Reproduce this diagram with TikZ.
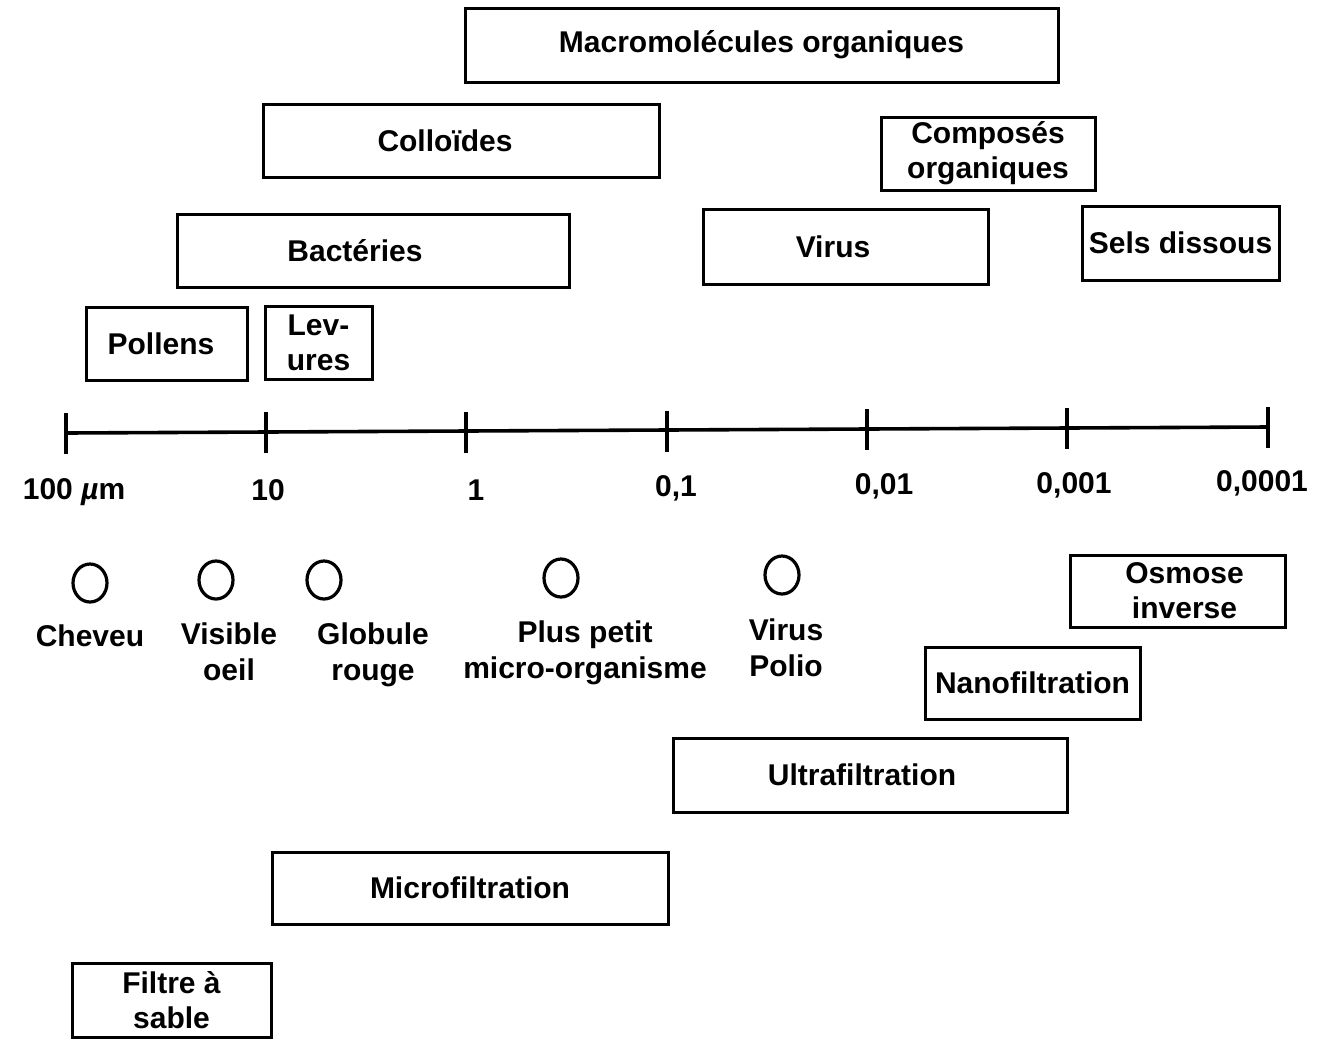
\documentclass[tikz,border=0pt]{standalone}
\usepackage{fontspec}
\setmainfont{Liberation Sans}
\usetikzlibrary{shapes.geometric}
\begin{document}
\begin{tikzpicture}[x=0.5pt,y=-0.5pt,
  bx/.style={draw, line width=1.5pt, inner sep=0pt, align=center, font=\fontsize{15}{17.5}\selectfont\bfseries},
  lbl/.style={inner sep=0pt, align=center, font=\fontsize{15}{18}\selectfont\bfseries},
  sizering/.style={draw, ellipse, line width=1.6pt, minimum width=17pt, minimum height=19pt, inner sep=0pt},
  axisline/.style={line width=1.8pt}]
\useasboundingbox (0,0) rectangle (1326,1039);
% boxes
\node[bx, minimum width=296.5pt, minimum height=37pt] (macro) at (761.5,45) {Macromolécules organiques};
\node[bx, minimum width=198pt, minimum height=36.5pt] (coll) at (461,140.5) {Colloïdes\kern16pt};
\node[bx, minimum width=107pt, minimum height=36.5pt] (comp) at (988,153.5) {Composés\\organiques};
\node[bx, minimum width=196pt, minimum height=36.5pt] (bact) at (373,250.5) {Bactéries\kern18pt};
\node[bx, minimum width=142.5pt, minimum height=37.5pt] (virus) at (845.5,246.5) {Virus\kern12.5pt};
\node[bx, minimum width=98.5pt, minimum height=37pt] (sels) at (1180.5,243) {Sels dissous};
\node[bx, minimum width=80.5pt, minimum height=36.5pt] (poll) at (166.5,343.5) {Pollens\kern5.5pt};
\node[bx, minimum width=53.5pt, minimum height=36.5pt] (lev) at (318.5,342.5) {Lev-\\ures};
\node[bx, minimum width=107.5pt, minimum height=36pt] (osm) at (1177.5,591) {\kern7pt Osmose\\\kern7pt inverse};
\node[bx, minimum width=107.5pt, minimum height=36pt] (nano) at (1032.5,683) {Nanofiltration};
\node[bx, minimum width=197pt, minimum height=37pt] (ultra) at (870,775) {Ultrafiltration\kern8pt};
\node[bx, minimum width=198pt, minimum height=36pt] (micro) at (470,888) {Microfiltration};
\node[bx, minimum width=99.5pt, minimum height=37pt] (filt) at (171.5,1000) {Filtre à\\sable};
% axis
\coordinate (t0) at (66,433);
\coordinate (t1) at (266,432);
\coordinate (t2) at (466,432);
\coordinate (t3) at (667,431);
\coordinate (t4) at (867,429);
\coordinate (t5) at (1067,428);
\coordinate (t6) at (1268,427);
\draw[axisline] (t0) -- (t6);
\foreach \t in {t0,t1,t2,t3,t4,t5,t6}{
  \draw[axisline] (\t) ++(0,-20) -- ++(0,41);
}
\node[lbl] (l0) at (74,492) {100 {\itshape µ}m};
\node[lbl] (l1) at (268,490) {10};
\node[lbl] (l2) at (476,490) {1};
\node[lbl] (l3) at (676,488) {0,1};
\node[lbl] (l4) at (884,486) {0,01};
\node[lbl] (l5) at (1074,485) {0,001};
\node[lbl] (l6) at (1262,483) {0,0001};
% reference sizes
\node[sizering] (c1) at (90,583) {};
\node[sizering] (c2) at (216,580) {};
\node[sizering] (c3) at (324,580) {};
\node[sizering] (c4) at (561,578) {};
\node[sizering] (c5) at (782,575) {};
\node[lbl, anchor=north] (r1) at (90,624) {Cheveu};
\node[lbl, anchor=north] (r2) at (229,622) {Visible\\oeil};
\node[lbl, anchor=north] (r3) at (373,622) {Globule\\rouge};
\node[lbl, anchor=north] (r4) at (585,620) {Plus petit\\micro-organisme};
\node[lbl, anchor=north] (r5) at (786,618) {Virus\\Polio};
\end{tikzpicture}
\end{document}
